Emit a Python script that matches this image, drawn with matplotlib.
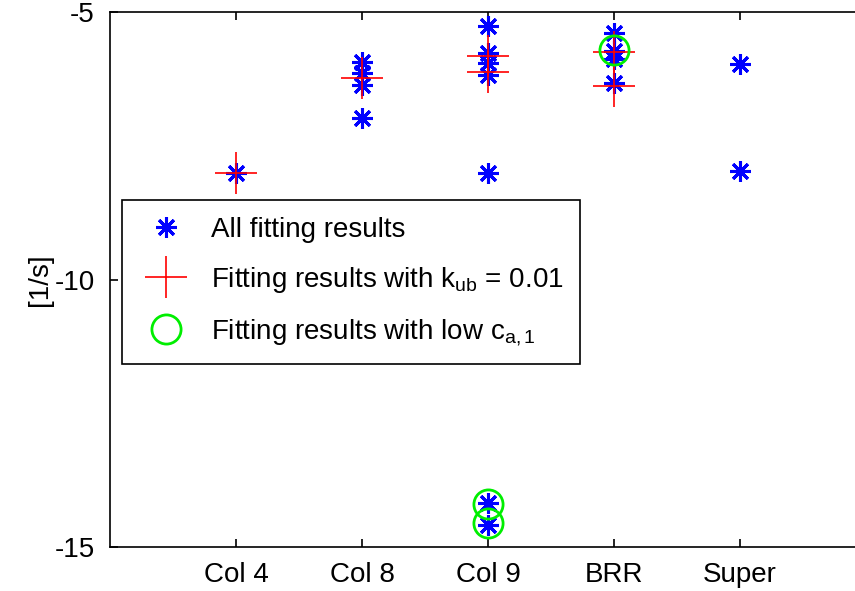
import matplotlib
matplotlib.use("Agg")
import matplotlib.pyplot as plt

plt.rcParams['font.family'] = ['Liberation Sans', 'DejaVu Sans']
plt.rcParams['mathtext.fontset'] = 'custom'
plt.rcParams['mathtext.rm'] = 'Liberation Sans'
plt.rcParams['mathtext.it'] = 'Liberation Sans'
plt.rcParams['mathtext.default'] = 'regular'
plt.rcParams['axes.unicode_minus'] = False

categories = ['Col 4', 'Col 8', 'Col 9', 'BRR', 'Super']

# all fitting results
all_x = [1, 2, 2, 2, 2, 3, 3, 3, 3, 3, 3, 3, 4, 4, 4, 4, 5, 5]
all_y = [-8.0, -5.93, -6.14, -6.36, -6.98,
         -5.27, -5.77, -5.96, -6.18, -8.0, -14.18, -14.58,
         -5.40, -5.72, -5.88, -6.33,
         -5.97, -7.97]

# results with k_ub = 0.01
kub_x = [1, 2, 3, 3, 4, 4]
kub_y = [-8.0, -6.23, -5.82, -6.13, -5.74, -6.38]

# results with low c_a,1
low_x = [3, 3, 4]
low_y = [-14.2, -14.55, -5.71]

fig = plt.figure(figsize=(8.55, 5.91), dpi=100)
ax = fig.add_axes([110 / 855, 44 / 591, 756 / 855, 535 / 591])

ax.plot(all_x, all_y, linestyle='none', marker=(8, 2, 0), markersize=15,
        markeredgewidth=2.2, color='#0000ff', label='All fitting results')
ax.plot(kub_x, kub_y, linestyle='none', marker='+', markersize=30,
        markeredgewidth=1.2, color='#ff0000',
        label='Fitting results with k$_{ub}$ = 0.01')
ax.plot(low_x, low_y, linestyle='none', marker='o', markersize=21,
        markeredgewidth=2, markerfacecolor='none', markeredgecolor='#00ee00',
        label='Fitting results with low c$_{a,1}$')

ax.set_xlim(0, 6)
ax.set_ylim(-15, -5)
ax.set_xticks(range(1, 6))
ax.set_xticklabels(categories)
ax.set_yticks([-15, -10, -5])
ax.tick_params(direction='in', length=6, width=1.2, labelsize=20,
               top=True, right=False, pad=11)
for s in ax.spines.values():
    s.set_linewidth(1.2)
ax.spines['right'].set_visible(False)
ax.set_ylabel('[1/s]', fontsize=20, labelpad=1)

leg = ax.legend(loc='upper left', bbox_to_anchor=(12 / 756, 347 / 535),
                borderaxespad=0, fontsize=20, fancybox=False,
                edgecolor='black', framealpha=1, labelspacing=0.8,
                handletextpad=0.6, borderpad=0.6, handlelength=2.0)
leg.get_frame().set_linewidth(1.2)

fig.savefig('out.png', dpi=100)
